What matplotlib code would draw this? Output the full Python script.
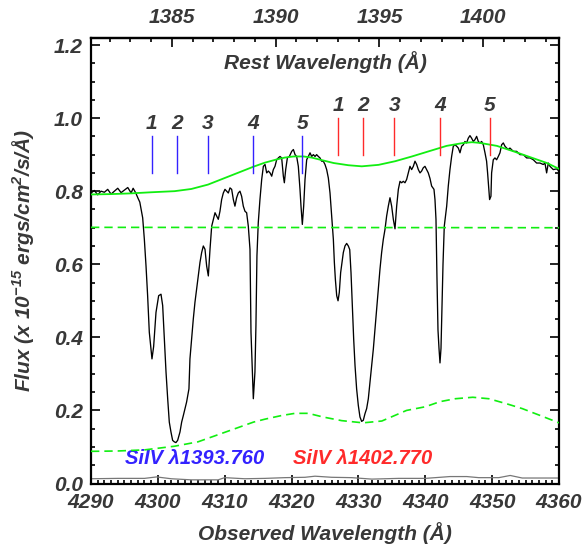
import matplotlib
matplotlib.use("Agg")
import matplotlib.pyplot as plt
from matplotlib.ticker import MultipleLocator, FixedLocator

plt.rcParams['font.family'] = ['Liberation Sans', 'DejaVu Sans']
plt.rcParams['mathtext.fontset'] = 'custom'
plt.rcParams['mathtext.rm'] = 'Liberation Sans:italic:bold'
plt.rcParams['mathtext.it'] = 'Liberation Sans:italic:bold'
plt.rcParams['mathtext.bf'] = 'Liberation Sans:italic:bold'

# ---------------- data ----------------
zfac = 3.1062  # observed / rest

wave = [4290.0, 4290.5, 4291.0, 4291.5, 4292.0, 4292.5, 4293.0, 4293.5, 4294.0, 4294.5,
        4295.0, 4295.5, 4296.0, 4296.3, 4296.7, 4297.0, 4297.3, 4297.5, 4297.73, 4297.98,
        4298.23, 4298.47, 4298.72, 4298.97, 4299.12, 4299.37, 4299.72, 4300.12, 4300.47, 4300.72,
        4300.97, 4301.22, 4301.47, 4301.71, 4301.96, 4302.21, 4302.46, 4302.7, 4302.96, 4303.31,
        4303.56, 4303.81, 4304.3, 4304.65, 4304.8, 4305.05, 4305.3, 4305.55, 4305.8, 4306.05,
        4306.3, 4306.55, 4306.8, 4307.05, 4307.3, 4307.55, 4307.8, 4308.05, 4308.3, 4308.55,
        4308.8, 4309.04, 4309.29, 4309.54, 4309.79, 4310.04, 4310.29, 4310.54, 4310.79, 4311.04,
        4311.29, 4311.53, 4311.78, 4312.03, 4312.28, 4312.53, 4312.78, 4313.03, 4313.28, 4313.53,
        4313.78, 4313.93, 4314.13, 4314.28, 4314.52, 4314.67, 4314.82, 4315.02, 4315.27, 4315.53,
        4315.78, 4316.03, 4316.28, 4316.53, 4316.78, 4317.03, 4317.27, 4317.52, 4317.77, 4318.02,
        4318.27, 4318.52, 4318.77, 4318.92, 4319.12, 4319.37, 4319.67, 4320.02, 4320.27, 4320.52,
        4320.76, 4321.01, 4321.26, 4321.41, 4321.61, 4321.81, 4322.01, 4322.26, 4322.51, 4322.76,
        4323.01, 4323.26, 4323.51, 4323.75, 4324.0, 4324.25, 4324.5, 4324.75, 4325.0, 4325.25,
        4325.5, 4325.75, 4326.0, 4326.25, 4326.4, 4326.55, 4326.75, 4326.95, 4327.14, 4327.34,
        4327.54, 4327.74, 4327.99, 4328.24, 4328.49, 4328.7, 4328.89, 4329.09, 4329.29, 4329.49,
        4329.73, 4329.98, 4330.23, 4330.48, 4330.73, 4330.98, 4331.23, 4331.48, 4331.73, 4331.98,
        4332.23, 4332.48, 4332.73, 4332.98, 4333.22, 4333.47, 4333.72, 4333.97, 4334.22, 4334.47,
        4334.72, 4334.97, 4335.22, 4335.47, 4335.72, 4335.97, 4336.22, 4336.46, 4336.71, 4336.96,
        4337.21, 4337.46, 4337.71, 4337.96, 4338.21, 4338.46, 4338.71, 4338.96, 4339.21, 4339.45,
        4339.7, 4339.95, 4340.2, 4340.45, 4340.7, 4340.95, 4341.3, 4341.45, 4341.6, 4341.75,
        4341.9, 4342.05, 4342.2, 4342.35, 4342.5, 4342.65, 4342.84, 4343.2, 4343.44, 4343.69,
        4343.94, 4344.19, 4344.44, 4344.69, 4344.94, 4345.19, 4345.44, 4345.69, 4345.93, 4346.18,
        4346.43, 4346.68, 4346.93, 4347.18, 4347.43, 4347.68, 4347.93, 4348.18, 4348.43, 4348.68,
        4348.93, 4349.17, 4349.32, 4349.47, 4349.62, 4349.82, 4349.92, 4350.17, 4350.42, 4350.67,
        4350.92, 4351.17, 4351.42, 4351.67, 4351.92, 4352.17, 4352.41, 4352.66, 4353.16, 4353.66,
        4354.16, 4354.66, 4355.16, 4355.66, 4356.15, 4356.65, 4357.15, 4357.65, 4357.9, 4358.15,
        4358.4, 4358.65, 4359.15, 4359.64, 4360.0]

flux = [0.795, 0.802, 0.790, 0.800, 0.797, 0.805, 0.792, 0.800, 0.808, 0.796,
        0.803, 0.810, 0.795, 0.808, 0.795, 0.782, 0.770, 0.750, 0.727, 0.668,
        0.595, 0.514, 0.414, 0.368, 0.341, 0.375, 0.468, 0.514, 0.518, 0.487,
        0.395, 0.305, 0.232, 0.168, 0.141, 0.118, 0.114, 0.112, 0.118, 0.141,
        0.168, 0.186, 0.223, 0.259, 0.341, 0.395, 0.450, 0.496, 0.532, 0.568,
        0.605, 0.632, 0.650, 0.641, 0.595, 0.568, 0.641, 0.704, 0.723, 0.741,
        0.732, 0.723, 0.745, 0.777, 0.795, 0.805, 0.800, 0.795, 0.809, 0.805,
        0.777, 0.759, 0.782, 0.795, 0.800, 0.786, 0.759, 0.745, 0.741, 0.704,
        0.641, 0.414, 0.305, 0.232, 0.305, 0.432, 0.623, 0.714, 0.777, 0.832,
        0.868, 0.873, 0.850, 0.855, 0.850, 0.841, 0.859, 0.868, 0.886, 0.891,
        0.895, 0.891, 0.841, 0.823, 0.859, 0.891, 0.895, 0.909, 0.914, 0.900,
        0.895, 0.868, 0.805, 0.759, 0.709, 0.759, 0.832, 0.886, 0.895, 0.905,
        0.895, 0.900, 0.895, 0.900, 0.895, 0.891, 0.882, 0.882, 0.873, 0.859,
        0.836, 0.795, 0.732, 0.668, 0.605, 0.559, 0.514, 0.500, 0.523, 0.577,
        0.605, 0.632, 0.650, 0.657, 0.650, 0.640, 0.577, 0.486, 0.395, 0.323,
        0.259, 0.214, 0.182, 0.170, 0.173, 0.191, 0.205, 0.232, 0.277, 0.323,
        0.368, 0.423, 0.477, 0.532, 0.586, 0.632, 0.668, 0.695, 0.732, 0.759,
        0.782, 0.759, 0.723, 0.697, 0.759, 0.805, 0.827, 0.823, 0.827, 0.823,
        0.832, 0.850, 0.868, 0.859, 0.868, 0.882, 0.873, 0.859, 0.850, 0.855,
        0.864, 0.868, 0.859, 0.850, 0.835, 0.814, 0.805, 0.777, 0.723, 0.560,
        0.420, 0.370, 0.330, 0.370, 0.480, 0.600, 0.704, 0.759, 0.814, 0.859,
        0.895, 0.923, 0.927, 0.923, 0.918, 0.905, 0.923, 0.927, 0.936, 0.932,
        0.945, 0.952, 0.945, 0.936, 0.941, 0.950, 0.936, 0.932, 0.936, 0.927,
        0.905, 0.882, 0.850, 0.814, 0.777, 0.786, 0.850, 0.886, 0.891, 0.886,
        0.895, 0.905, 0.927, 0.932, 0.923, 0.918, 0.914, 0.918, 0.909, 0.909,
        0.900, 0.900, 0.891, 0.891, 0.886, 0.877, 0.877, 0.873, 0.877, 0.850,
        0.877, 0.868, 0.859, 0.861, 0.855]

err_wave = [4290, 4294, 4298, 4299.8, 4302, 4305, 4309, 4310, 4313, 4316, 4319, 4322,
            4323.5, 4326, 4329, 4332, 4336, 4340, 4343.7, 4346.2, 4348, 4351, 4352.7,
            4354.5, 4357, 4360]
err_flux = [0.013, 0.014, 0.014, 0.018, 0.013, 0.010, 0.010, 0.016, 0.013, 0.014, 0.016, 0.017,
            0.020, 0.017, 0.016, 0.012, 0.014, 0.014, 0.019, 0.019, 0.016, 0.016, 0.022,
            0.015, 0.015, 0.015]

cont_wave = [4290, 4293, 4296, 4299, 4302.5, 4305, 4307.5, 4310, 4312.5, 4314.3, 4316,
             4317.8, 4319, 4320.3, 4321.8, 4323, 4324.3, 4326.3, 4328.5, 4330.5, 4333, 4335.5,
             4338, 4340.5, 4343.2, 4345.7, 4347, 4348.2, 4350.7, 4353.2, 4355.7, 4358.2, 4360]
cont_flux = [0.791, 0.792, 0.794, 0.797, 0.800, 0.806, 0.818, 0.836, 0.854, 0.867, 0.878,
             0.887, 0.892, 0.895, 0.895, 0.892, 0.886, 0.877, 0.871, 0.868, 0.872, 0.882,
             0.895, 0.909, 0.924, 0.932, 0.934, 0.932, 0.924, 0.909, 0.893, 0.877, 0.861]

upper_wave = [4290, 4360]
upper_flux = [0.701, 0.700]

lower_wave = [4290, 4294, 4298, 4302.5, 4306, 4310, 4314.3, 4316, 4318.5, 4320.5, 4322.5,
              4324.7, 4327.5, 4330.7, 4333.5, 4337.2, 4340, 4342.2, 4344.5, 4347.1, 4349.5,
              4352.2, 4354.5, 4357.2, 4360]
lower_flux = [0.088, 0.089, 0.092, 0.102, 0.114, 0.140, 0.168, 0.176, 0.186, 0.192, 0.192,
              0.182, 0.172, 0.166, 0.171, 0.200, 0.210, 0.224, 0.232, 0.236, 0.232,
              0.218, 0.205, 0.186, 0.166]

blue_pos = [4299.08, 4302.82, 4307.45, 4314.27, 4321.60]
red_pos = [4326.99, 4330.73, 4335.37, 4342.20, 4349.68]
comp_labels = ['1', '2', '3', '4', '5']

x_ticks = [4290, 4300, 4310, 4320, 4330, 4340, 4350, 4360]
y_ticks = [0.0, 0.2, 0.4, 0.6, 0.8, 1.0, 1.2]
top_ticks = [1385, 1390, 1395, 1400]

# ---------------- styling ----------------
TXT = '#383838'
GREEN = '#11ee11'
BLUE = '#3322ff'
RED = '#ff2a2a'
FS = 15
FONT = dict(fontweight='bold', fontstyle='italic', fontsize=FS)

fig = plt.figure(figsize=(5.87, 5.46), dpi=100)
ax = fig.add_axes([91/587, 1-483.5/546, (559-91)/587, (483.5-37.7)/546])

ax.plot(wave, flux, color='black', lw=0.95, zorder=3)
ax.plot(err_wave, err_flux, color='#777777', lw=0.9, zorder=2)
ax.plot(cont_wave, cont_flux, color=GREEN, lw=1.3, zorder=4)
ax.plot(upper_wave, upper_flux, color=GREEN, lw=1.2, dashes=(5, 3), zorder=4)
ax.plot(lower_wave, lower_flux, color=GREEN, lw=1.2, dashes=(5, 3), zorder=4)

for p, lab in zip(blue_pos, comp_labels):
    ax.plot([p, p], [0.85, 0.95], color=BLUE, lw=1.0, zorder=5)
    ax.text(p, 0.985, lab, ha='center', va='center', color=TXT, **FONT)
for p, lab in zip(red_pos, comp_labels):
    ax.plot([p, p], [0.90, 1.00], color=RED, lw=1.0, zorder=5)
    ax.text(p, 1.035, lab, ha='center', va='center', color=TXT, **FONT)

ax.text(4295.1, 0.068, 'SiIV λ1393.760', ha='left', va='center', color=BLUE,
        fontweight='bold', fontstyle='italic', fontsize=14.5)
ax.text(4320.2, 0.068, 'SiIV λ1402.770', ha='left', va='center', color=RED,
        fontweight='bold', fontstyle='italic', fontsize=14.5)

ax.text(4325.1, 1.153, 'Rest Wavelength (Å)', ha='center', va='center', color=TXT, **FONT)

ax.set_xlim(4290, 4360)
ax.set_ylim(0.0, 1.22)
ax.xaxis.set_major_locator(FixedLocator(x_ticks))
ax.xaxis.set_minor_locator(MultipleLocator(1))
ax.yaxis.set_major_locator(FixedLocator(y_ticks))
ax.yaxis.set_minor_locator(MultipleLocator(0.05))
ax.set_xticklabels([str(t) for t in x_ticks])
ax.set_yticklabels([f'{t:.1f}' for t in y_ticks])
ax.tick_params(which='both', direction='in', top=False, right=True, bottom=True, left=True,
               width=1.2, colors='black', labelcolor=TXT, labelsize=FS)
ax.tick_params(which='major', length=6.5)
ax.tick_params(which='minor', length=3.2)
ax.tick_params(axis='x', pad=6.5)
ax.tick_params(axis='y', pad=6)
for lab in ax.get_xticklabels() + ax.get_yticklabels():
    lab.set_fontweight('bold')
    lab.set_fontstyle('italic')
for s in ax.spines.values():
    s.set_linewidth(1.6)

secax = ax.secondary_xaxis('top', functions=(lambda x: x / zfac, lambda x: x * zfac))
secax.xaxis.set_major_locator(FixedLocator(top_ticks))
secax.xaxis.set_minor_locator(MultipleLocator(1))
secax.set_xticklabels([str(t) for t in top_ticks])
secax.tick_params(which='both', direction='in', width=1.2, labelcolor=TXT, labelsize=FS, pad=7.5)
secax.tick_params(which='major', length=6.5)
secax.tick_params(which='minor', length=3.2)
for lab in secax.get_xticklabels():
    lab.set_fontweight('bold')
    lab.set_fontstyle('italic')
secax.spines['top'].set_linewidth(1.6)

fig.text(325/587, 1-533/546, 'Observed Wavelength (Å)', ha='center', va='center',
         color=TXT, **FONT)
fig.text(23/587, 1-260/546, r'Flux (x 10$^{-15}$ ergs/cm$^{2}$/s/Å)', ha='center',
         va='center', rotation=90, color=TXT, **FONT)

fig.savefig('out.png', dpi=100)
